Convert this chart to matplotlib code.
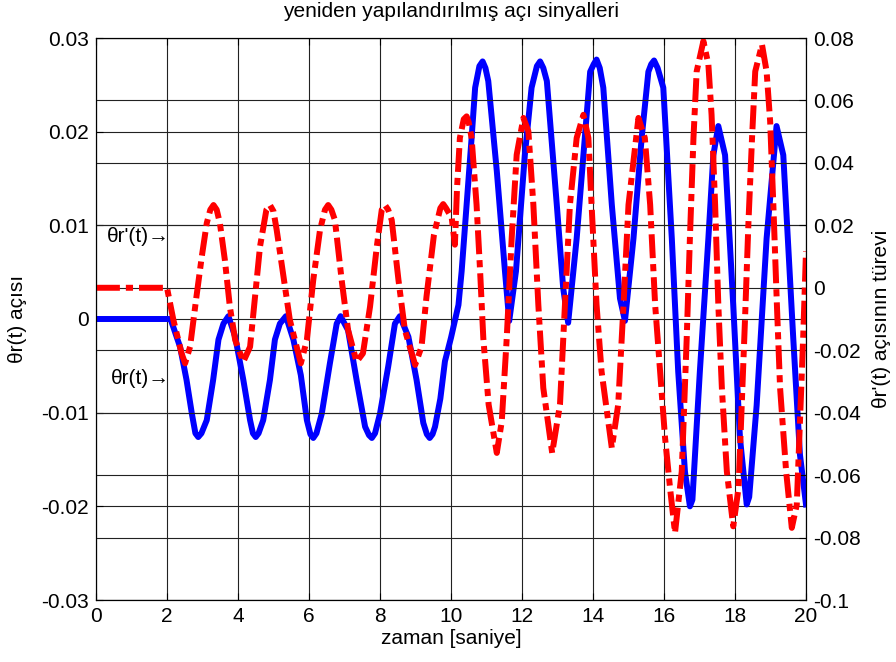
import matplotlib
matplotlib.use('Agg')
import matplotlib.pyplot as plt

plt.rcParams['font.family'] = ['Liberation Sans', 'DejaVu Sans']

# theta_r(t), left axis
t_theta = [0.0, 2.0, 2.1, 2.37, 2.55, 2.70, 2.80, 2.88, 2.97, 3.12, 3.30, 3.45, 3.59,
           3.73, 3.92, 4.15, 4.34, 4.42, 4.50, 4.58, 4.71, 4.90, 5.04, 5.18, 5.35,
           5.56, 5.77, 5.94, 6.04, 6.12, 6.21, 6.36, 6.59, 6.78, 6.89, 7.10, 7.34,
           7.58, 7.69, 7.77, 7.86, 8.00, 8.23, 8.42, 8.56, 8.80, 9.03, 9.22, 9.32,
           9.40, 9.48, 9.55, 9.70, 9.83, 10.0, 10.21, 10.30, 10.44, 10.58, 10.68,
           10.80, 10.89, 10.97, 11.05, 11.29, 11.52, 11.64, 11.83, 12.08, 12.27,
           12.42, 12.51, 12.60, 12.70, 12.98, 13.16, 13.30, 13.54, 13.73, 13.92,
           14.02, 14.10, 14.19, 14.29, 14.53, 14.76, 14.90, 15.14, 15.37, 15.56,
           15.64, 15.72, 15.82, 15.98, 16.22, 16.40, 16.59, 16.73, 16.80, 17.01,
           17.25, 17.39, 17.53, 17.72, 17.95, 18.14, 18.33, 18.40, 18.61, 18.89,
           19.17, 19.36, 19.64, 19.83, 20.0]
theta = [0.0, 0.0, 0.0, -0.0030, -0.0065, -0.0101, -0.0122, -0.0126, -0.0122, -0.0108,
         -0.0065, -0.0022, -0.0005, 0.0003, -0.0019, -0.0065, -0.0108, -0.0122,
         -0.0126, -0.0122, -0.0108, -0.0065, -0.0022, -0.0005, 0.0003, -0.0022,
         -0.0060, -0.0108, -0.0123, -0.0127, -0.0122, -0.0101, -0.0047, -0.0005,
         0.0003, -0.0012, -0.0065, -0.0115, -0.0124, -0.0127, -0.0122, -0.0101,
         -0.0051, -0.0005, 0.0003, -0.0019, -0.0065, -0.0111, -0.0123, -0.0127,
         -0.0123, -0.0115, -0.0085, -0.0045, -0.0020, 0.0015, 0.0051, 0.0122,
         0.0193, 0.0247, 0.0270, 0.0275, 0.0268, 0.0254, 0.0158, 0.0051, -0.0002,
         0.0051, 0.0175, 0.0247, 0.0270, 0.0275, 0.0268, 0.0254, 0.0122, 0.0033,
         -0.0004, 0.0086, 0.0175, 0.0264, 0.0272, 0.0277, 0.0268, 0.0247, 0.0122,
         0.0022, -0.0002, 0.0086, 0.0193, 0.0264, 0.0272, 0.0276, 0.0268, 0.0247,
         0.0086, -0.0056, -0.0163, -0.0200, -0.0193, -0.0056, 0.0086, 0.0175,
         0.0206, 0.0175, 0.0015, -0.0127, -0.0198, -0.0190, -0.0092, 0.0086, 0.0206,
         0.0175, -0.0020, -0.0145, -0.0198]

# theta_r'(t), right axis
t_dtheta = [0.0, 2.0, 2.18, 2.41, 2.51, 2.65, 2.83, 2.98, 3.12, 3.22, 3.31, 3.40, 3.49,
            3.63, 3.77, 3.92, 4.15, 4.34, 4.48, 4.62, 4.80, 4.90, 5.00, 5.09, 5.28,
            5.46, 5.77, 5.94, 6.12, 6.31, 6.45, 6.54, 6.63, 6.73, 6.92, 7.10, 7.34,
            7.52, 7.72, 7.91, 8.05, 8.14, 8.23, 8.33, 8.52, 8.70, 8.99, 9.17, 9.31,
            9.52, 9.70, 9.78, 9.86, 10.02, 10.11, 10.17, 10.25, 10.36, 10.44, 10.50,
            10.58, 10.72, 10.82, 10.91, 11.06, 11.29, 11.43, 11.57, 11.71, 11.85,
            12.04, 12.18, 12.32, 12.46, 12.60, 12.85, 13.07, 13.21, 13.35, 13.54,
            13.73, 13.87, 13.96, 14.10, 14.24, 14.53, 14.71, 14.86, 15.00, 15.28,
            15.46, 15.61, 15.75, 15.89, 16.03, 16.17, 16.31, 16.50, 16.64, 16.73,
            16.83, 16.92, 17.11, 17.25, 17.34, 17.44, 17.53, 17.63, 17.77, 17.95,
            18.10, 18.19, 18.28, 18.38, 18.48, 18.57, 18.76, 18.89, 18.99, 19.08,
            19.18, 19.27, 19.44, 19.60, 19.74, 19.83, 19.92, 20.0]
dtheta = [0.0, 0.0, -0.0103, -0.0210, -0.0242, -0.0189, -0.0028, 0.0100, 0.0207, 0.0250,
          0.0265, 0.0250, 0.0207, 0.0089, -0.0060, -0.0167, -0.0237, -0.0189, -0.0028,
          0.0132, 0.0250, 0.0265, 0.0245, 0.0185, 0.0036, -0.0103, -0.0242, -0.0167,
          0.0025, 0.0185, 0.0250, 0.0265, 0.0250, 0.0217, 0.0025, -0.0135, -0.0237,
          -0.0210, -0.0060, 0.0132, 0.0250, 0.0265, 0.0250, 0.0217, 0.0025, -0.0135,
          -0.0247, -0.0189, -0.0028, 0.0170, 0.0255, 0.0268, 0.0255, 0.0224, 0.0138,
          0.0320, 0.0480, 0.0540, 0.0549, 0.0530, 0.0480, 0.0266, 0.0053, -0.0161,
          -0.0374, -0.0529, -0.0428, -0.0161, 0.0160, 0.0426, 0.0544, 0.0501, 0.0266,
          -0.0054, -0.0321, -0.0529, -0.0374, -0.0054, 0.0266, 0.0480, 0.0554, 0.0480,
          0.0266, -0.0054, -0.0267, -0.0513, -0.0374, -0.0054, 0.0266, 0.0544, 0.0480,
          0.0266, -0.0054, -0.0267, -0.0481, -0.0641, -0.0785, -0.0588, -0.0161,
          0.0160, 0.0480, 0.0693, 0.0790, 0.0715, 0.0554, 0.0266, -0.0054, -0.0321,
          -0.0588, -0.0764, -0.0641, -0.0374, -0.0107, 0.0213, 0.0480, 0.0693, 0.0779,
          0.0693, 0.0533, 0.0266, -0.0054, -0.0321, -0.0588, -0.0769, -0.0695,
          -0.0428, -0.0161, 0.0117]

x_ticks = [0, 2, 4, 6, 8, 10, 12, 14, 16, 18, 20]
left_ticks = [-0.03, -0.02, -0.01, 0, 0.01, 0.02, 0.03]
left_labels = ['-0.03', '-0.02', '-0.01', '0', '0.01', '0.02', '0.03']
right_ticks = [-0.1, -0.08, -0.06, -0.04, -0.02, 0, 0.02, 0.04, 0.06, 0.08]
right_labels = ['-0.1', '-0.08', '-0.06', '-0.04', '-0.02', '0', '0.02', '0.04', '0.06', '0.08']

fs = 15
grid_kw = dict(color='#222222', linewidth=0.8, linestyle='-')

fig = plt.figure(figsize=(8.96, 6.62), dpi=100)
ax1 = fig.add_axes([96 / 896, 62 / 662, 710 / 896, 562 / 662])
ax2 = ax1.twinx()

ax1.plot(t_theta, theta, color='#0000ff', linewidth=4.3, solid_joinstyle='round')
ax2.plot(t_dtheta, dtheta, color='#ff0000', linewidth=4.3,
         linestyle=(0, (4.0, 1.0, 1.2, 1.0)))

ax1.set_xlim(0, 20)
ax1.set_ylim(-0.03, 0.03)
ax2.set_ylim(-0.1, 0.08)
ax1.set_xticks(x_ticks)
ax1.set_xticklabels([str(v) for v in x_ticks])
ax1.set_yticks(left_ticks)
ax1.set_yticklabels(left_labels)
ax2.set_yticks(right_ticks)
ax2.set_yticklabels(right_labels)

ax1.grid(True, **grid_kw)
ax2.grid(True, axis='y', **grid_kw)
ax1.set_axisbelow(True)
ax2.set_axisbelow(True)

ax1.tick_params(direction='in', length=5, top=True, right=False, labelsize=fs, pad=5)
ax2.tick_params(direction='in', length=5, labelsize=fs, pad=5)
for ax in (ax1, ax2):
    for s in ax.spines.values():
        s.set_linewidth(0.8)

ax1.set_title('yeniden yapılandırılmış açı sinyalleri', fontsize=fs, pad=15)
ax1.set_xlabel('zaman [saniye]', fontsize=fs, labelpad=2)
ax1.set_ylabel('θr(t) açısı', fontsize=fs, labelpad=10)
ax2.set_ylabel("θr'(t) açısının türevi", fontsize=fs, labelpad=8)

ax1.text(0.3, 0.0088, "θr'(t)→", fontsize=fs, va='center', ha='left')
ax1.text(0.42, -0.0064, 'θr(t)→', fontsize=fs, va='center', ha='left')

fig.savefig('out.png', dpi=100)
